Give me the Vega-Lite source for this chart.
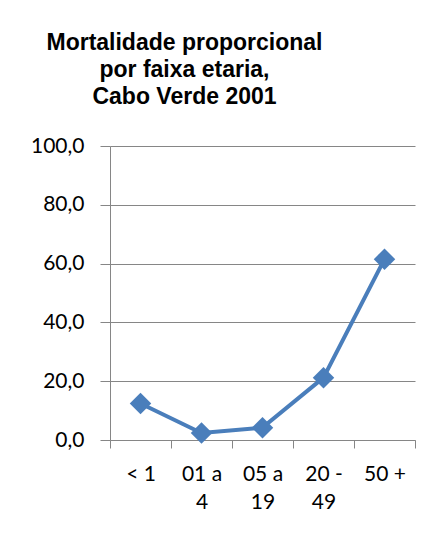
{
  "$schema": "https://vega.github.io/schema/vega-lite/v6.json",
  "autosize": "none",
  "width": 305,
  "height": 294,
  "padding": {"left": 110, "top": 146, "right": 24, "bottom": 94},
  "background": "white",
  "title": {
    "text": ["Mortalidade proporcional", "por faixa etaria,", "Cabo Verde 2001"],
    "font": "Liberation Sans",
    "fontSize": 23,
    "fontWeight": "bold",
    "color": "#000000",
    "lineHeight": 27,
    "anchor": "middle",
    "dx": -78,
    "offset": 26
  },
  "data": {
    "values": [
      {"faixa": "< 1", "valor": 12.4},
      {"faixa": "01 a 4", "valor": 2.4},
      {"faixa": "05 a 19", "valor": 4.2},
      {"faixa": "20 - 49", "valor": 21.2},
      {"faixa": "50 +", "valor": 61.5}
    ]
  },
  "config": {
    "view": {"stroke": null},
    "axis": {
      "labelFont": "Lato",
      "labelFontSize": 21,
      "labelColor": "#000000",
      "domainColor": "#868686",
      "tickColor": "#868686",
      "gridColor": "#868686",
      "gridOpacity": 1,
      "domainWidth": 1,
      "tickWidth": 1
    }
  },
  "encoding": {
    "x": {
      "field": "faixa",
      "type": "nominal",
      "sort": null,
      "scale": {"paddingInner": 0, "paddingOuter": 0},
      "axis": {
        "title": null,
        "labelAngle": 0,
        "tickBand": "extent",
        "tickSize": 8,
        "labelPadding": 15,
        "labelBaseline": "top",
        "labelLineHeight": 28,
        "labelExpr": "datum.value == '01 a 4' ? ['01 a', '4'] : datum.value == '05 a 19' ? ['05 a', '19'] : datum.value == '20 - 49' ? ['20 -', '49'] : datum.value"
      }
    },
    "y": {
      "field": "valor",
      "type": "quantitative",
      "scale": {"domain": [0, 100], "nice": false},
      "axis": {
        "title": null,
        "values": [0, 20, 40, 60, 80, 100],
        "labelExpr": "replace(format(datum.value, '.1f'), '.', ',')",
        "tickSize": 10,
        "labelPadding": 16,
        "grid": true
      }
    }
  },
  "layer": [
    {
      "mark": {"type": "line", "color": "#4a7ebb", "strokeWidth": 4}
    },
    {
      "mark": {"type": "point", "shape": "diamond", "filled": true, "size": 460, "color": "#4a7ebb", "opacity": 1}
    }
  ]
}
